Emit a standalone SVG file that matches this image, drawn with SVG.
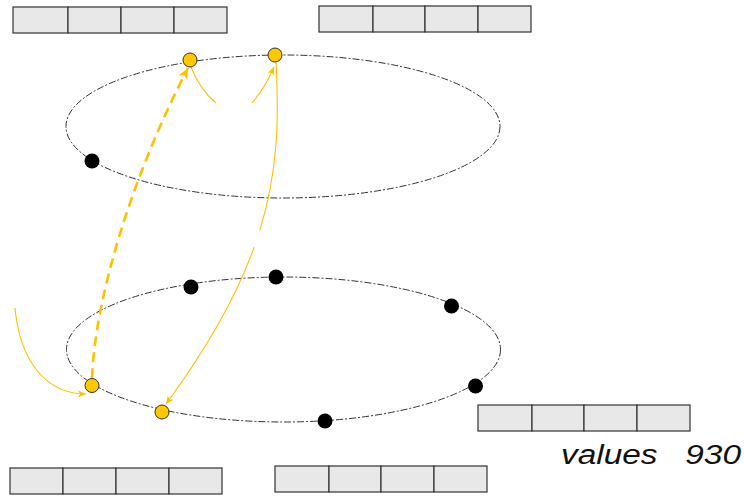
<svg xmlns="http://www.w3.org/2000/svg" width="744" height="498" viewBox="0 0 744 498">
  <style>
    .cell { fill: #E8E8E8; stroke: #333333; stroke-width: 1.2; }
    .ring { fill: none; stroke: #333333; stroke-width: 1; stroke-dasharray: 7 2 2 2; }
    .dot-y { fill: #FFC800; stroke: #333333; stroke-width: 1; }
    .dot-k { fill: #000000; }
    .link { fill: none; stroke: #FFC000; stroke-width: 1.1; }
    .link-d { fill: none; stroke: #FFC000; stroke-width: 2.6; stroke-dasharray: 10 6; }
    .label { font-family: "Liberation Sans", Arial, sans-serif; font-style: italic; font-size: 27px; fill: #111111; }
  </style>
  <defs>
    <marker id="tip" viewBox="0 0 10 10" refX="10" refY="5" markerWidth="9" markerHeight="8" markerUnits="userSpaceOnUse" orient="auto">
      <path d="M0,0.5 L10,5 L0,9.5 L2.5,5 z" fill="#FFC000"/>
    </marker>
    <marker id="tip-big" viewBox="0 0 10 10" refX="10" refY="5" markerWidth="12" markerHeight="11" markerUnits="userSpaceOnUse" orient="auto">
      <path d="M0,0.5 L10,5 L0,9.5 L2.5,5 z" fill="#FFC000"/>
    </marker>
  </defs>

  <!-- register strips -->
  <g id="strip-top-left">
    <rect class="cell" x="13" y="7" width="55" height="26"/>
    <rect class="cell" x="68" y="7" width="53" height="26"/>
    <rect class="cell" x="121" y="7" width="53" height="26"/>
    <rect class="cell" x="174" y="7" width="53" height="26"/>
  </g>
  <g id="strip-top-right">
    <rect class="cell" x="319" y="6" width="54" height="26"/>
    <rect class="cell" x="373" y="6" width="52" height="26"/>
    <rect class="cell" x="425" y="6" width="53" height="26"/>
    <rect class="cell" x="478" y="6" width="53" height="26"/>
  </g>
  <g id="strip-bottom-right">
    <rect class="cell" x="478" y="405" width="54" height="26"/>
    <rect class="cell" x="532" y="405" width="52" height="26"/>
    <rect class="cell" x="584" y="405" width="53" height="26"/>
    <rect class="cell" x="637" y="405" width="53" height="26"/>
  </g>
  <g id="strip-bottom-left">
    <rect class="cell" x="10" y="468" width="53" height="26"/>
    <rect class="cell" x="63" y="468" width="53" height="26"/>
    <rect class="cell" x="116" y="468" width="53" height="26"/>
    <rect class="cell" x="169" y="468" width="53" height="26"/>
  </g>
  <g id="strip-bottom-mid">
    <rect class="cell" x="275" y="466" width="54" height="26"/>
    <rect class="cell" x="329" y="466" width="52" height="26"/>
    <rect class="cell" x="381" y="466" width="53" height="26"/>
    <rect class="cell" x="434" y="466" width="53" height="26"/>
  </g>

  <!-- rings -->
  <g id="ring-upper">
    <ellipse class="ring" cx="283" cy="126.5" rx="217" ry="71.5"/>
  </g>
  <g id="ring-lower">
    <ellipse class="ring" cx="283.5" cy="349.5" rx="217" ry="72.5"/>
  </g>

  <!-- connectors -->
  <g id="connectors">
    <path class="link-d" d="M92,378 C95,300 130,180 188,68" marker-end="url(#tip-big)"/>
    <path class="link" d="M15,308 C20,360 45,394 86,394" marker-end="url(#tip)"/>
    <path class="link" d="M191,67 Q200,90 216,103"/>
    <path class="link" d="M252,103 Q265,88 274,67" marker-end="url(#tip)"/>
    <path class="link" d="M276,62 C282,170 272,260 166,404" stroke-dasharray="170 18 400" marker-end="url(#tip)"/>
  </g>

  <!-- ring members -->
  <g id="node-u1"><circle class="dot-y" cx="190" cy="60" r="7"/></g>
  <g id="node-u2"><circle class="dot-y" cx="275" cy="55" r="7"/></g>
  <g id="node-u3"><circle class="dot-k" cx="92" cy="161" r="7.5"/></g>

  <g id="node-l1"><circle class="dot-y" cx="92" cy="385.5" r="7"/></g>
  <g id="node-l2"><circle class="dot-y" cx="162" cy="412" r="7"/></g>
  <g id="node-l3"><circle class="dot-k" cx="191" cy="287" r="7.5"/></g>
  <g id="node-l4"><circle class="dot-k" cx="276" cy="277" r="7.5"/></g>
  <g id="node-l5"><circle class="dot-k" cx="451.5" cy="306" r="7.5"/></g>
  <g id="node-l6"><circle class="dot-k" cx="475.5" cy="386" r="7.5"/></g>
  <g id="node-l7"><circle class="dot-k" cx="325" cy="421" r="7.5"/></g>

  <text class="label" x="561" y="464" textLength="180" lengthAdjust="spacingAndGlyphs" xml:space="preserve">values   930</text>
</svg>
